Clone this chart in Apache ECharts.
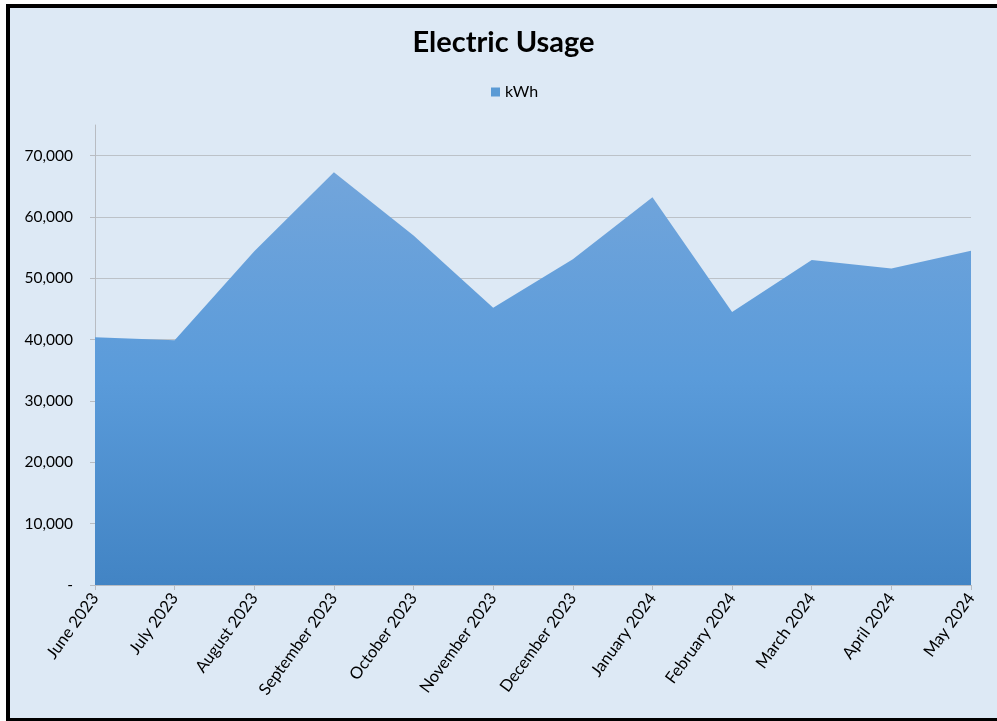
<!DOCTYPE html>
<html>
<head>
<meta charset="utf-8">
<title>Electric Usage</title>
<script src="https://cdn.jsdelivr.net/npm/echarts@6/dist/echarts.min.js"></script>
<style>
  html, body { margin: 0; padding: 0; background: #ffffff; }
  #frame {
    position: absolute; left: 6px; top: 4px; right: 0; bottom: 0;
    border-left: 4px solid #000; border-top: 4px solid #000; border-bottom: 3px solid #000;
    background: #dde9f5;
  }
  #chart { width: 100%; height: 100%; }
</style>
</head>
<body>
<div id="frame"><div id="chart"></div></div>
<script>
// months on the x axis
const months = ['June 2023', 'July 2023', 'August 2023', 'September 2023', 'October 2023',
  'November 2023', 'December 2023', 'January 2024', 'February 2024', 'March 2024',
  'April 2024', 'May 2024'];
// kWh per month
const kwh = [40400, 39900, 54400, 67300, 57000, 45200, 53100, 63200, 44500, 53000, 51600, 54500];
const yTicks = [0, 10000, 20000, 30000, 40000, 50000, 60000, 70000];

const font = 'Lato, "Open Sans", sans-serif';

const chart = echarts.init(document.getElementById('chart'), null, { renderer: 'canvas' });

const option = {
  backgroundColor: 'transparent',
  animation: false,
  title: {
    text: 'Electric Usage',
    left: 'center',
    top: 15,
    textStyle: { fontFamily: font, fontSize: 29, fontWeight: 'bold', color: '#000' }
  },
  legend: {
    data: ['kWh'],
    top: 71,
    left: 476,
    icon: 'rect',
    itemWidth: 9,
    itemHeight: 9,
    itemGap: 4,
    textStyle: { fontFamily: font, fontSize: 16, color: '#000' }
  },
  grid: { left: 85, right: 26, top: 117, bottom: 133 },
  xAxis: {
    type: 'category',
    data: months,
    boundaryGap: false,
    axisLine: { lineStyle: { color: '#b8bcc2', width: 1 } },
    axisTick: { show: true, alignWithLabel: true, length: 5, lineStyle: { color: '#b8bcc2' } },
    axisLabel: {
      interval: 0,
      rotate: 54,
      margin: 10,
      fontFamily: font,
      fontSize: 16.5,
      color: '#000'
    }
  },
  yAxis: {
    type: 'value',
    min: 0,
    max: 75000,
    interval: 10000,
    axisLine: { show: true, lineStyle: { color: '#b8bcc2' } },
    axisTick: { show: true, length: 5, lineStyle: { color: '#b8bcc2' } },
    axisLabel: {
      showMaxLabel: false,
      margin: 22,
      fontFamily: font,
      fontSize: 15.5,
      color: '#000',
      formatter: v => {
        if (yTicks.indexOf(v) < 0) return '';
        return v === 0 ? '-' : v.toLocaleString('en-US');
      }
    },
    splitLine: { show: true, showMaxLine: false, lineStyle: { color: '#bcc2c8', width: 1 } }
  },
  series: [
    {
      name: 'kWh',
      type: 'line',
      data: kwh,
      symbol: 'none',
      lineStyle: { width: 0 },
      itemStyle: { color: '#5b9bd5' },
      areaStyle: {
        opacity: 1,
        color: new echarts.graphic.LinearGradient(0, 0, 0, 1, [
          { offset: 0, color: '#72a5db' },
          { offset: 0.5, color: '#5a9bda' },
          { offset: 1, color: '#4284c4' }
        ])
      }
    }
  ]
};

chart.setOption(option);
</script>
</body>
</html>
